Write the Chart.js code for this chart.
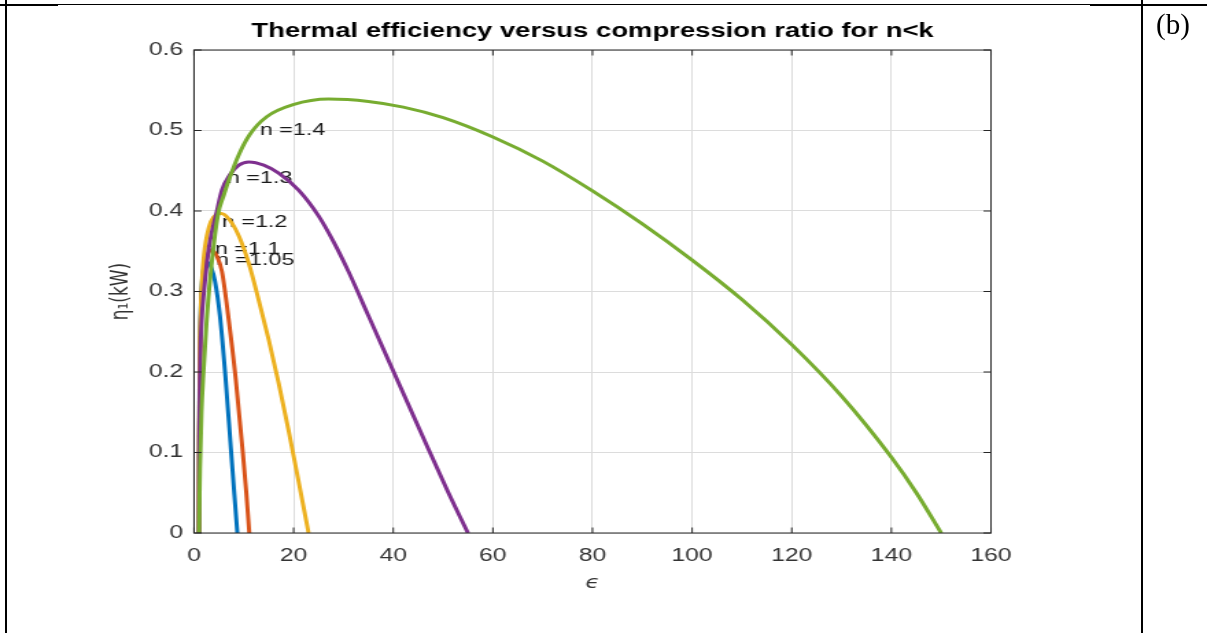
<!DOCTYPE html>
<html>
<head>
<meta charset="utf-8">
<title>Thermal efficiency versus compression ratio</title>
<script src="https://cdn.jsdelivr.net/npm/chart.js@4.4.0/dist/chart.umd.min.js"></script>
<style>
  body { margin: 0; background: #fff; }
  #page { position: relative; width: 1207px; height: 633px; overflow: hidden; }
  #chart { position: absolute; left: 0; top: 0; width: 1207px; height: 633px; }
  .rule { position: absolute; background: #000; }
  #tag { position: absolute; left: 1156px; top: 8px; font: 29px "Liberation Serif", serif; color: #000; }
</style>
</head>
<body>
<div id="page">
  <canvas id="chart" width="880" height="633" style="width:1207px;height:633px"></canvas>
  <div class="rule" style="left:0;top:4px;width:1207px;height:1px"></div>
  <div class="rule" style="left:0;top:4px;width:58px;height:2px"></div>
  <div class="rule" style="left:1090px;top:4px;width:117px;height:2px"></div>
  <div class="rule" style="left:5px;top:0;width:2px;height:633px"></div>
  <div class="rule" style="left:1141px;top:0;width:2px;height:633px"></div>
  <div id="tag">(b)</div>
</div>
<script>
// tick values and labels
var xTicks = [0, 20, 40, 60, 80, 100, 120, 140, 160];
var xTickLabels = ['0', '20', '40', '60', '80', '100', '120', '140', '160'];
var yTicks = [0, 0.1, 0.2, 0.3, 0.4, 0.5, 0.6];
var yTickLabels = ['0', '0.1', '0.2', '0.3', '0.4', '0.5', '0.6'];

// curves (epsilon, eta)
var eps105 = [1, 1.05, 1.15, 1.35, 1.7, 2.2, 2.8, 3.5, 4.2, 5.2, 6.3, 7.4, 8.1, 8.7];
var eta105 = [0, 0.12, 0.22, 0.28, 0.318, 0.333, 0.336, 0.329, 0.313, 0.27, 0.195, 0.105, 0.048, 0];

var eps11 = [1, 1.05, 1.2, 1.5, 2, 2.7, 3.5, 4.5, 5.6, 6.8, 8.4, 9.8, 10.5, 11.1];
var eta11 = [0, 0.12, 0.22, 0.29, 0.325, 0.345, 0.352, 0.345, 0.325, 0.273, 0.19, 0.1, 0.05, 0];

var eps12 = [1, 1.05, 1.2, 1.5, 2, 3, 4, 5.5, 7, 9, 11, 13, 15, 17, 19, 21, 23];
var eta12 = [0, 0.12, 0.23, 0.3, 0.345, 0.38, 0.393, 0.397, 0.39, 0.369, 0.335, 0.289, 0.24, 0.186, 0.127, 0.064, 0];

var eps13 = [1, 1.05, 1.2, 1.5, 2, 3, 4.6, 5.6, 7.2, 9, 11, 14, 17, 21, 25, 28, 31, 35, 39, 43, 47, 51, 55];
var eta13 = [0, 0.1, 0.2, 0.26, 0.3, 0.355, 0.4, 0.426, 0.445, 0.457, 0.461, 0.457, 0.447, 0.426, 0.394, 0.362, 0.325, 0.27, 0.215, 0.16, 0.105, 0.051, 0];

var eps14 = [1, 1.2, 1.5, 1.9, 2.5, 3.3, 4.8, 6, 7.2, 9, 11.2, 14.6, 19.9, 27, 35, 42, 50, 60, 70, 80, 90, 100, 110, 120, 130, 140, 145, 150];
var eta14 = [0, 0.08, 0.15, 0.2, 0.26, 0.32, 0.395, 0.42, 0.442, 0.47, 0.495, 0.517, 0.532, 0.539, 0.536, 0.529, 0.516, 0.492, 0.462, 0.425, 0.384, 0.339, 0.29, 0.234, 0.17, 0.094, 0.05, 0];

var seriesColors = ['#0072BD', '#D95319', '#EDB120', '#7E2F8E', '#77AC30'];

// text labels placed in the axes (left edge, middle)
var noteText = ['n =1.05', 'n =1.1', 'n =1.2', 'n =1.3', 'n =1.4'];
var noteEps = [4.4, 4.2, 5.6, 6.6, 13.2];
var noteEta = [0.339, 0.353, 0.386, 0.44, 0.5];

// the source figure is stretched sideways on the page, so the canvas is too
var SX = 1207 / 880;
var W = 880;

function toPoints(xs, ys) {
    return xs.map(function (x, i) {
        return {x: x, y: ys[i]};
    });
}

var curves = [
    [eps105, eta105], [eps11, eta11], [eps12, eta12], [eps13, eta13], [eps14, eta14]
];

var datasets = curves.map(function (c, i) {
    return {
        label: noteText[i],
        data: toPoints(c[0], c[1]),
        borderColor: seriesColors[i],
        borderWidth: 3,
        pointRadius: 0,
        showLine: true,
        tension: 0.4,
        cubicInterpolationMode: 'monotone',
        order: curves.length - i
    };
});

var notes = {
    id: 'notes',
    beforeDatasetsDraw: function (chart) {
        var ctx = chart.ctx, x = chart.scales.x, y = chart.scales.y;
        ctx.save();
        ctx.fillStyle = '#1a1a1a';
        ctx.font = '17px "Liberation Sans", Arial, sans-serif';
        ctx.textAlign = 'left';
        ctx.textBaseline = 'middle';
        noteText.forEach(function (t, i) {
            ctx.fillText(t, x.getPixelForValue(noteEps[i]), y.getPixelForValue(noteEta[i]));
        });
        ctx.restore();
    }
};

// box round the axes with ticks pointing inwards
var frame = {
    id: 'frame',
    afterDatasetsDraw: function (chart) {
        var ctx = chart.ctx, a = chart.chartArea, x = chart.scales.x, y = chart.scales.y;
        var len = 5.5;
        ctx.save();
        ctx.strokeStyle = '#262626';
        ctx.lineWidth = 1;
        ctx.beginPath();
        xTicks.forEach(function (v) {
            var px = x.getPixelForValue(v);
            ctx.moveTo(px, a.bottom);
            ctx.lineTo(px, a.bottom - len);
            ctx.moveTo(px, a.top);
            ctx.lineTo(px, a.top + len);
        });
        yTicks.forEach(function (v) {
            var py = y.getPixelForValue(v);
            ctx.moveTo(a.left, py);
            ctx.lineTo(a.left + len, py);
            ctx.moveTo(a.right, py);
            ctx.lineTo(a.right - len, py);
        });
        ctx.stroke();
        ctx.strokeRect(a.left, a.top, a.right - a.left, a.bottom - a.top);
        ctx.restore();
    }
};

var tickFont = {family: '"Liberation Sans", Arial, sans-serif', size: 18};

new Chart(document.getElementById('chart'), {
    type: 'scatter',
    data: {datasets: datasets},
    options: {
        responsive: false,
        animation: false,
        layout: {padding: {left: 0, right: W - 991 / SX, top: 0, bottom: 0}},
        plugins: {
            legend: {display: false},
            tooltip: {enabled: false},
            title: {
                display: true,
                fullSize: false,
                text: 'Thermal efficiency versus compression ratio for n<k',
                color: '#000',
                font: {family: '"Liberation Sans", Arial, sans-serif', size: 20, weight: 'bold', lineHeight: 1.2},
                padding: {top: 19, bottom: 7}
            }
        },
        scales: {
            x: {
                type: 'linear',
                min: 0,
                max: 160,
                afterFit: function (s) { s.height = 100; },
                afterBuildTicks: function (s) {
                    s.ticks = xTicks.map(function (v) { return {value: v}; });
                },
                grid: {color: '#dcdcdc', lineWidth: 1, drawTicks: false},
                border: {display: false},
                ticks: {
                    autoSkip: false,
                    maxRotation: 0,
                    padding: 12,
                    color: '#333',
                    font: tickFont,
                    callback: function (v, i) { return xTickLabels[i]; }
                },
                title: {
                    display: true,
                    text: 'ϵ',
                    color: '#333',
                    font: {family: '"DejaVu Sans", sans-serif', size: 17, style: 'italic'},
                    padding: {top: 0, bottom: 39}
                }
            },
            y: {
                type: 'linear',
                min: 0,
                max: 0.6,
                afterFit: function (s) { s.width = 194 / SX; },
                afterBuildTicks: function (s) {
                    s.ticks = yTicks.map(function (v) { return {value: v}; });
                },
                grid: {color: '#dcdcdc', lineWidth: 1, drawTicks: false},
                border: {display: false},
                ticks: {
                    autoSkip: false,
                    padding: 8,
                    color: '#333',
                    font: tickFont,
                    callback: function (v, i) { return yTickLabels[i]; }
                },
                title: {
                    display: true,
                    text: 'η₁(kW)',
                    color: '#333',
                    font: {family: '"DejaVu Sans", sans-serif', size: 17},
                    padding: {top: 78, bottom: 0}
                }
            }
        }
    },
    plugins: [notes, frame]
});
</script>
</body>
</html>
